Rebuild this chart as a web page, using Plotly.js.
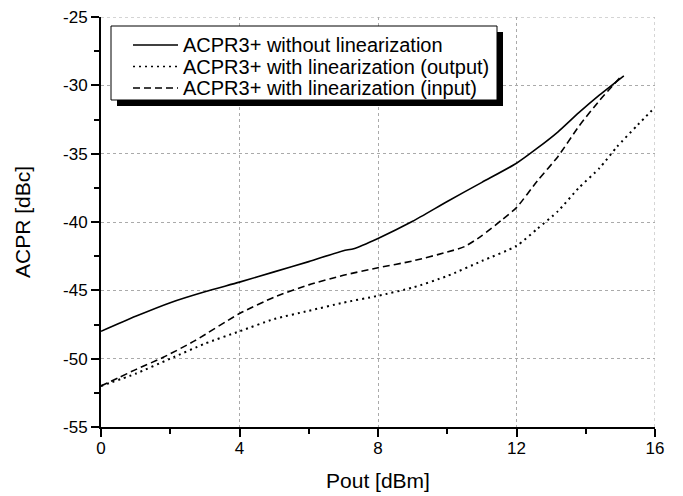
<!DOCTYPE html>
<html><head><meta charset="utf-8">
<script src="https://cdn.plot.ly/plotly-3.0.1.min.js"></script>
<style>html,body{margin:0;padding:0;background:#fff}#chart{width:683px;height:496px}</style>
</head><body><div id="chart"></div>
<script>
const solidX = [0,1,2,3,4,5,6,7,7.3,8,9,10,11,12,12.6,13.2,13.8,14.4,15.1];
const solidY = [-48.0,-46.9,-45.9,-45.1,-44.4,-43.65,-42.9,-42.1,-41.95,-41.2,-39.95,-38.5,-37.1,-35.7,-34.6,-33.4,-32.0,-30.7,-29.3];
const dashX = [0,0.5,1,1.8,2.7,4,5,6,7,8,9,10,10.5,11,11.6,12,12.6,13.2,13.8,14.4,15.0];
const dashY = [-52.0,-51.4,-50.8,-49.9,-48.7,-46.7,-45.5,-44.6,-43.9,-43.35,-42.85,-42.2,-41.8,-41.0,-39.8,-38.95,-37.0,-35.2,-33.0,-31.1,-29.4];
const dotX = [0,1,2,3,4,5,6,7,8,9,10,11,12,12.6,13.2,13.8,14.4,14.9,15.5,16];
const dotY = [-52.0,-51.1,-50.0,-48.9,-48.0,-47.1,-46.5,-45.9,-45.4,-44.8,-43.95,-42.85,-41.75,-40.5,-39.2,-37.5,-36.05,-34.5,-32.9,-31.6];
const names = ["ACPR3+ without linearization","ACPR3+ with linearization (output)","ACPR3+ with linearization (input)"];
const xTicks = [0,4,8,12,16];
const yTicks = [-55,-50,-45,-40,-35,-30,-25];

const font = "Liberation Sans, Arial, sans-serif";
const lineStyles = [
  {color:'#000', width:1.6},
  {color:'#000', width:2, dash:'2px,4px'},
  {color:'#000', width:1.6, dash:'7px,4px'}
];
const traces = [
  {x: solidX, y: solidY, name: names[0], mode: 'lines', line: Object.assign({shape:'spline', smoothing:0.6}, lineStyles[0])},
  {x: dotX, y: dotY, name: names[1], mode: 'lines', line: Object.assign({shape:'spline', smoothing:0.6}, lineStyles[1])},
  {x: dashX, y: dashY, name: names[2], mode: 'lines', line: Object.assign({shape:'spline', smoothing:0.6}, lineStyles[2])}
];

// plot-area geometry (pixels) for placing the hand-built legend
const M = {l:101, r:28, t:17, b:69};
const PW = 683 - M.l - M.r, PH = 496 - M.t - M.b;
const px = v => (v - M.l) / PW;
const py = v => (M.t + PH - v) / PH;

const legendBox = {x0:111, x1:497, y0:26, y1:100};
const shadowOff = {dx:6, dy:6};
const rowY = [45, 66.5, 88];
const sample = {x0:133, x1:178};
const textX = 182;

const shapes = [
  {type:'line', xref:'x', yref:'y', x0:16, x1:16, y0:-55, y1:-25, line:{color:'#aaa', width:1, dash:'dot'}, layer:'below'},
  {type:'line', xref:'x', yref:'y', x0:0, x1:16, y0:-25, y1:-25, line:{color:'#aaa', width:1, dash:'dot'}, layer:'below'},
  {type:'rect', xref:'paper', yref:'paper', x0:px(legendBox.x0+shadowOff.dx), x1:px(legendBox.x1+shadowOff.dx),
    y0:py(legendBox.y1+shadowOff.dy), y1:py(legendBox.y0+shadowOff.dy), fillcolor:'#000', line:{width:0}, layer:'above'},
  {type:'rect', xref:'paper', yref:'paper', x0:px(legendBox.x0), x1:px(legendBox.x1),
    y0:py(legendBox.y1), y1:py(legendBox.y0), fillcolor:'#fff', line:{color:'#000', width:1}, layer:'above'}
];
const annotations = [];
names.forEach((n, i) => {
  shapes.push({type:'line', xref:'paper', yref:'paper', x0:px(sample.x0), x1:px(sample.x1), y0:py(rowY[i]), y1:py(rowY[i]),
    line:Object.assign({}, lineStyles[i], {width: i===1 ? 1.6 : 1.4}), layer:'above'});
  annotations.push({xref:'paper', yref:'paper', x:px(textX), y:py(rowY[i]), xanchor:'left', yanchor:'middle',
    text:n, showarrow:false, font:{family:font, size:20, color:'#000'}, borderpad:0});
});

const gridStyle = {showgrid:true, gridcolor:'#aaa', gridwidth:1, griddash:'dot'};
const layout = {
  width:683, height:496,
  margin:M,
  paper_bgcolor:'#fff', plot_bgcolor:'#fff',
  showlegend:false,
  font:{family:font, size:17, color:'#000'},
  xaxis: Object.assign({
    range:[0,16], tickvals:xTicks, ticktext:xTicks.map(String),
    showline:true, linecolor:'#000', linewidth:2,
    ticks:'outside', ticklen:8, tickwidth:2, tickcolor:'#000',
    minor:{dtick:2, tick0:0, ticks:'outside', ticklen:5, tickwidth:2, tickcolor:'#000', showgrid:false},
    zeroline:false, ticklabelstandoff:-3,
    tickfont:{family:font, size:17},
    title:{text:'Pout [dBm]', font:{family:font, size:21}, standoff:16}
  }, gridStyle),
  yaxis: Object.assign({
    range:[-55,-25], tickvals:yTicks, ticktext:yTicks.map(String),
    showline:true, linecolor:'#000', linewidth:2,
    ticks:'outside', ticklen:8, tickwidth:2, tickcolor:'#000',
    minor:{dtick:2.5, tick0:-55, ticks:'outside', ticklen:5, tickwidth:2, tickcolor:'#000', showgrid:false},
    zeroline:false,
    tickfont:{family:font, size:17},
    title:{text:'ACPR [dBc]', font:{family:font, size:21}, standoff:27}
  }, gridStyle),
  shapes: shapes,
  annotations: annotations
};
Plotly.newPlot('chart', traces, layout, {displayModeBar:false, staticPlot:true});
</script></body></html>
